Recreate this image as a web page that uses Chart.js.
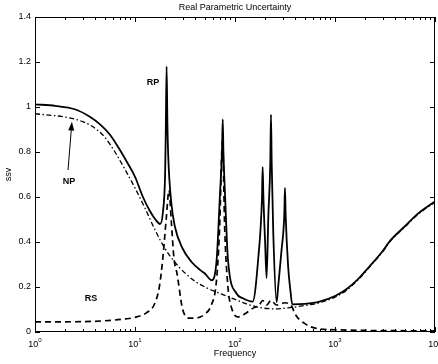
<!DOCTYPE html>
<html>
<head>
<meta charset="utf-8">
<script src="https://cdn.jsdelivr.net/npm/chart.js@4.4.1/dist/chart.umd.min.js"></script>
<style>
  body { margin: 0; background: #fff; }
</style>
</head>
<body>
<canvas id="ssv" width="438" height="364"></canvas>
<script>
// robust performance (solid)
const rpFreq = [1, 1.6, 2.5, 3.5, 4.5, 5.6, 7, 8.5, 10, 12, 14, 16, 17.8, 19, 20, 20.3, 20.7, 21.1, 21.5, 23, 25, 30, 37, 45,
  50, 58.5, 65.5, 70.8, 74.1, 75.4, 76.6, 79.4, 85.1, 104, 120, 150, 171, 186.2, 189, 192.3, 200, 207,
  215.3, 225.3, 229, 232.8, 241.5, 261, 270, 292, 311, 316, 321, 340, 359, 374,
  500, 700, 1000, 1300, 1700, 2200, 3000, 3600, 5000, 6800, 10000]
const rpVals = [1.012, 1.005, 0.99, 0.958, 0.922, 0.878, 0.812, 0.748, 0.69, 0.6, 0.54, 0.5, 0.48, 0.53, 0.7, 0.88, 1.18, 0.92, 0.78, 0.58, 0.47, 0.37, 0.31, 0.275,
  0.26, 0.23, 0.32, 0.615, 0.8, 0.945, 0.8, 0.615, 0.32, 0.17, 0.15, 0.135, 0.33, 0.6, 0.733, 0.6, 0.4, 0.24,
  0.51, 0.75, 0.966, 0.75, 0.437, 0.133, 0.2, 0.364, 0.52, 0.64, 0.52, 0.29, 0.18, 0.123,
  0.125, 0.135, 0.16, 0.19, 0.235, 0.29, 0.36, 0.408, 0.47, 0.527, 0.58]

// nominal performance (dash-dot)
const npFreq = [1, 2, 3, 4, 5, 6.3, 8, 10, 12.6, 16, 20, 25, 32, 40, 50, 63, 80, 100, 130, 180, 250, 350,
  500, 700, 1000, 1300, 1700, 2200, 3000, 3600, 5000, 6800, 10000]
const npVals = [0.97, 0.955, 0.935, 0.905, 0.865, 0.8, 0.72, 0.64, 0.55, 0.45, 0.37, 0.31, 0.26, 0.225, 0.2, 0.18, 0.162, 0.145, 0.125, 0.108, 0.103, 0.108,
  0.118, 0.13, 0.155, 0.185, 0.232, 0.287, 0.357, 0.405, 0.467, 0.524, 0.577]

// robust stability (dashed)
const rsFreq = [1, 3, 5, 8, 10, 13, 15.5, 17.5, 19, 20.5, 21.9, 23, 24.5, 26.3, 30, 35, 40, 50, 58, 65, 70, 75, 79, 85, 92,
  107, 125, 150, 175, 189, 207, 229, 261, 316, 374, 395, 500, 650, 1000, 2000, 10000]
const rsVals = [0.045, 0.046, 0.05, 0.058, 0.065, 0.085, 0.12, 0.2, 0.33, 0.5, 0.63, 0.5, 0.33, 0.26, 0.1, 0.062, 0.062, 0.08, 0.12, 0.22, 0.45, 0.85, 0.45, 0.2, 0.11,
  0.067, 0.08, 0.105, 0.12, 0.14, 0.12, 0.14, 0.12, 0.13, 0.11, 0.083, 0.037, 0.016, 0.01, 0.007, 0.005]

const yTicks = [0, 0.2, 0.4, 0.6, 0.8, 1, 1.2, 1.4]
const yTickLabels = ['0', '0.2', '0.4', '0.6', '0.8', '1', '1.2', '1.4']
const xDecades = [0, 1, 2, 3, 4]

// text labels placed in data units (frequency, ssv)
const notes = [
  { text: 'RP', f: 15.1, v: 1.107 },
  { text: 'NP', f: 2.19, v: 0.667 },
  { text: 'RS', f: 3.63, v: 0.151 }
]
const arrowFrom = { f: 2.14, v: 0.72 }
const arrowTo = { f: 2.34, v: 0.935 }

const FONT = '"Liberation Sans", Arial, Helvetica, sans-serif'
const pts = (fs, vs) => fs.map((f, i) => ({ x: f, y: vs[i] }))

const frame = {
  id: 'frame',
  afterDraw: (chart) => {
    const ctx = chart.ctx
    const xs = chart.scales.x
    const ys = chart.scales.y
    const a = chart.chartArea
    ctx.save()
    ctx.strokeStyle = '#000'
    ctx.fillStyle = '#000'
    ctx.lineWidth = 1
    ctx.strokeRect(Math.round(a.left) + 0.5, Math.round(a.top) + 0.5,
      Math.round(a.right - a.left) - 1, Math.round(a.bottom - a.top) - 1)

    // log ticks, top and bottom, pointing inward
    ctx.beginPath()
    xDecades.forEach(d => {
      for (let m = 1; m <= 9; m++) {
        const f = m * Math.pow(10, d)
        if (f > 10000) break
        const px = Math.round(xs.getPixelForValue(f)) + 0.5
        const len = m === 1 ? 5 : 3
        ctx.moveTo(px, a.bottom); ctx.lineTo(px, a.bottom - len)
        ctx.moveTo(px, a.top); ctx.lineTo(px, a.top + len)
      }
    })
    yTicks.forEach(v => {
      const py = Math.round(ys.getPixelForValue(v)) + 0.5
      ctx.moveTo(a.left, py); ctx.lineTo(a.left + 5, py)
      ctx.moveTo(a.right, py); ctx.lineTo(a.right - 5, py)
    })
    ctx.stroke()

    // y tick labels
    ctx.font = '9px ' + FONT
    ctx.textAlign = 'right'
    ctx.textBaseline = 'middle'
    yTicks.forEach((v, i) => ctx.fillText(yTickLabels[i], a.left - 4, ys.getPixelForValue(v)))

    // x tick labels 10^n
    ctx.textAlign = 'left'
    ctx.textBaseline = 'alphabetic'
    xDecades.forEach(d => {
      const px = xs.getPixelForValue(Math.pow(10, d))
      ctx.font = '9px ' + FONT
      const w1 = ctx.measureText('10').width
      ctx.font = '6px ' + FONT
      const w2 = ctx.measureText(String(d)).width
      const x0 = px - (w1 + w2) / 2
      ctx.font = '9px ' + FONT
      ctx.fillText('10', x0, a.bottom + 15)
      ctx.font = '6px ' + FONT
      ctx.fillText(String(d), x0 + w1, a.bottom + 10)
    })

    // titles
    ctx.font = '9px ' + FONT
    ctx.textAlign = 'center'
    const cx = (a.left + a.right) / 2
    ctx.fillText('Real Parametric Uncertainty', cx, 10)
    ctx.fillText('Frequency', cx, a.bottom + 24)
    ctx.save()
    ctx.translate(11, (a.top + a.bottom) / 2)
    ctx.rotate(-Math.PI / 2)
    ctx.fillText('ssv', 0, 0)
    ctx.restore()

    // curve names
    ctx.font = 'bold 9px ' + FONT
    ctx.textBaseline = 'middle'
    notes.forEach(n => ctx.fillText(n.text, xs.getPixelForValue(n.f), ys.getPixelForValue(n.v)))

    // arrow to NP
    const x1 = xs.getPixelForValue(arrowFrom.f), y1 = ys.getPixelForValue(arrowFrom.v)
    const x2 = xs.getPixelForValue(arrowTo.f), y2 = ys.getPixelForValue(arrowTo.v)
    const ang = Math.atan2(y2 - y1, x2 - x1)
    ctx.beginPath()
    ctx.moveTo(x1, y1)
    ctx.lineTo(x2 - 6 * Math.cos(ang), y2 - 6 * Math.sin(ang))
    ctx.stroke()
    ctx.beginPath()
    ctx.moveTo(x2, y2)
    ctx.lineTo(x2 - 9 * Math.cos(ang) + 3 * Math.sin(ang), y2 - 9 * Math.sin(ang) - 3 * Math.cos(ang))
    ctx.lineTo(x2 - 9 * Math.cos(ang) - 3 * Math.sin(ang), y2 - 9 * Math.sin(ang) + 3 * Math.cos(ang))
    ctx.closePath()
    ctx.fill()
    ctx.restore()
  }
}

new Chart(document.getElementById('ssv').getContext('2d'), {
  type: 'line',
  data: {
    datasets: [
      { label: 'RP', data: pts(rpFreq, rpVals), borderColor: '#000', borderWidth: 1.8, pointRadius: 0, fill: false, cubicInterpolationMode: 'monotone' },
      { label: 'NP', data: pts(npFreq, npVals), borderColor: '#000', borderWidth: 1.3, borderDash: [5, 2.5, 1.5, 2.5], pointRadius: 0, fill: false, cubicInterpolationMode: 'monotone' },
      { label: 'RS', data: pts(rsFreq, rsVals), borderColor: '#000', borderWidth: 1.7, borderDash: [6, 4], pointRadius: 0, fill: false, cubicInterpolationMode: 'monotone' }
    ]
  },
  options: {
    responsive: false,
    animation: false,
    layout: { padding: { left: 35, right: 3, top: 17, bottom: 32 } },
    plugins: { legend: { display: false }, tooltip: { enabled: false } },
    scales: {
      x: { type: 'logarithmic', min: 1, max: 10000, display: false },
      y: { type: 'linear', min: 0, max: 1.4, display: false }
    }
  },
  plugins: [frame]
})
</script>
</body>
</html>
